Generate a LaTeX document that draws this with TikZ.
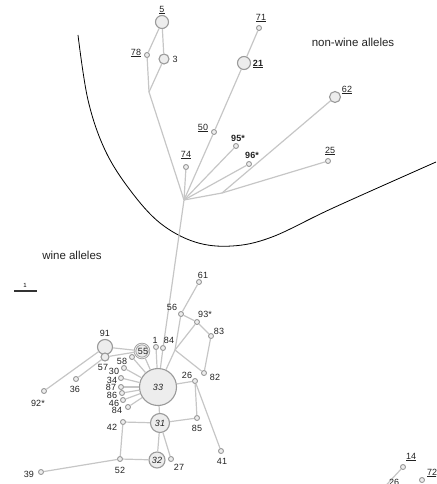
\documentclass[tikz,border=0pt]{standalone}
\usepackage{fontspec}
\setmainfont{Liberation Sans}
\definecolor{nodegray}{HTML}{9A9A9A}
\definecolor{nodefill}{HTML}{EDEDED}
\definecolor{linkgray}{HTML}{C6C6C6}
\definecolor{labgray}{HTML}{222222}
\tikzset{
  hap/.style={circle,draw=nodegray,fill=nodefill,line width=1.1pt,inner sep=0pt},
  sm/.style={hap,minimum size=5pt,line width=0.9pt},
  lab/.style={font=\fontsize{9}{10}\selectfont,text=labgray,inner sep=0pt},
  inlab/.style={font=\fontsize{9}{10}\selectfont\itshape,text=labgray,inner sep=0pt},
  title/.style={font=\fontsize{11.5}{13}\selectfont,text=labgray,inner sep=0pt},
  link/.style={draw=linkgray,line width=1.2pt},
}
\begin{document}
\begin{tikzpicture}[x=1pt,y=-1pt]
\useasboundingbox (0,0) rectangle (436,484);
\clip (0,0) rectangle (436,484);
% curve
\draw[black,line width=0.8pt] plot[smooth,tension=0.6] coordinates {(78,35) (88,100) (105,150) (130,190) (160,223) (195,242) (232,246) (272,237) (333,208) (436,162)};
% junctions
\coordinate (A) at (149,92);
\coordinate (H) at (184,200);
\coordinate (J2) at (222,193);
\coordinate (J3) at (175,350);
\coordinate (off14) at (378,494);
% nodes
\node[hap,minimum size=13pt] (n5) at (162,22) {};
\node[sm] (n78) at (147,55) {};
\node[hap,minimum size=10pt] (n3) at (164,59) {};
\node[sm] (n71) at (259,28) {};
\node[hap,minimum size=13pt] (n21) at (244,63) {};
\node[hap,minimum size=11pt] (n62) at (335,97) {};
\node[sm] (n50) at (214,132) {};
\node[sm] (n95) at (236,146) {};
\node[sm] (n96) at (249,164) {};
\node[sm] (n74) at (186,167) {};
\node[sm] (n25) at (328,161) {};
\node[sm] (n61) at (199,282) {};
\node[sm] (n56) at (181,314) {};
\node[sm] (n93) at (197,322) {};
\node[sm] (n83) at (211,336) {};
\node[sm] (n1) at (156,347) {};
\node[sm] (n84) at (163,348) {};
\node[hap,minimum size=15pt] (n91) at (105,347) {};
\node[hap,minimum size=8pt] (n57) at (105,357) {};
\node[sm] (n58) at (132,357) {};
\node[sm] (n30) at (124,368) {};
\node[sm] (n34) at (121,378) {};
\node[sm] (n87) at (121,387) {};
\node[sm] (n86) at (122,393) {};
\node[sm] (n46) at (123,400) {};
\node[sm] (n84b) at (128,407) {};
\node[hap,minimum size=37pt] (n33) at (158,387) {};
\node[sm] (n26) at (195,381) {};
\node[sm] (n82) at (204,373) {};
\node[sm] (n85) at (197,418) {};
\node[sm] (n41) at (221,451) {};
\node[hap,minimum size=19pt] (n31) at (160,423) {};
\node[sm] (n42) at (123,422) {};
\node[sm] (n52) at (120,459) {};
\node[hap,minimum size=16pt] (n32) at (157,460) {};
\node[sm] (n27) at (171,459) {};
\node[sm] (n39) at (41,472) {};
\node[sm] (n92) at (44,391) {};
\node[sm] (n36) at (76,379) {};
\node[sm] (n14) at (403,467) {};
\node[sm] (n72) at (422,480) {};
\node[hap,minimum size=14pt,double=nodefill,double distance=0.8pt,line width=0.8pt] (n55) at (142,351) {};
% links
\foreach \a/\b in {n5/n78,n5/n3,n78/A,n3/A,A/H,n71/n21,n21/n50,n50/H,H/n74,H/n95,H/n96,H/J2,J2/n25,J2/n62,H/n84,n84/n33,n1/n33,n55/n33,n91/n55,n57/n55,n91/n92,n57/n36,n58/n33,n30/n33,n34/n33,n87/n33,n86/n33,n46/n33,n84b/n33,n61/n56,n56/n93,n93/n83,n83/n82,n56/J3,n93/J3,J3/n82,J3/n33,n33/n26,n26/n85,n26/n41,n85/n31,n33/n31,n31/n42,n31/n32,n31/n27,n42/n52,n52/n32,n52/n39,n14/off14}
  \draw[link] (\a) -- (\b);
% inner labels
\node[inlab] (t33) at (n33) {33};
\node[inlab] (t31) at (n31) {31};
\node[inlab] (t32) at (n32) {32};
\node[lab] (t55) at (143,351) {55};
% labels
\node[lab] (l5) at (162,10) {\underline{5}};
\node[lab] (l78) at (136,53) {\underline{78}};
\node[lab] (l3) at (175,59) {3};
\node[lab] (l71) at (261,18) {\underline{71}};
\node[lab] (l21) at (258,64) {\underline{\textbf{21}}};
\node[lab] (l62) at (347,90) {\underline{62}};
\node[lab] (l50) at (203,128) {\underline{50}};
\node[lab] (l95) at (238,138) {\textbf{95*}};
\node[lab] (l96) at (252,155) {\textbf{96*}};
\node[lab] (l74) at (186,155) {\underline{74}};
\node[lab] (l25) at (330,151) {\underline{25}};
\node[lab] (l61) at (203,275) {61};
\node[lab] (l56) at (172,307) {56};
\node[lab] (l93) at (205,314) {93*};
\node[lab] (l83) at (219,331) {83};
\node[lab] (l1) at (155,340) {1};
\node[lab] (l84) at (169,340) {84};
\node[lab] (l91) at (105,333) {91};
\node[lab] (l57) at (103,367) {57};
\node[lab] (l58) at (122,361) {58};
\node[lab] (l30) at (114,371) {30};
\node[lab] (l34) at (112,380) {34};
\node[lab] (l87) at (111,387) {87};
\node[lab] (l86) at (112,395) {86};
\node[lab] (l46) at (114,403) {46};
\node[lab] (l84b) at (117,410) {84};
\node[lab] (l26) at (187,375) {26};
\node[lab] (l82) at (215,377) {82};
\node[lab] (l85) at (197,428) {85};
\node[lab] (l41) at (222,461) {41};
\node[lab] (l42) at (112,427) {42};
\node[lab] (l52) at (120,470) {52};
\node[lab] (l27) at (179,467) {27};
\node[lab] (l39) at (29,474) {39};
\node[lab] (l92) at (38,403) {92*};
\node[lab] (l36) at (75,389) {36};
\node[lab] (l14) at (411,457) {\underline{14}};
\node[lab] (l72) at (432,473) {\underline{72}};
\node[lab] (l26b) at (394,482) {26};
% titles
\node[title] (wine) at (72,255) {wine alleles};
\node[title] (nonwine) at (353,42) {non-wine alleles};
% scale bar
\node[font=\fontsize{6}{7}\selectfont,inner sep=0pt] (sc) at (25,285) {1};
\coordinate (sb1) at (14,291);
\coordinate (sb2) at (37,291);
\draw[line width=1.2pt,black!80] (sb1) -- (sb2);
\end{tikzpicture}
\end{document}
